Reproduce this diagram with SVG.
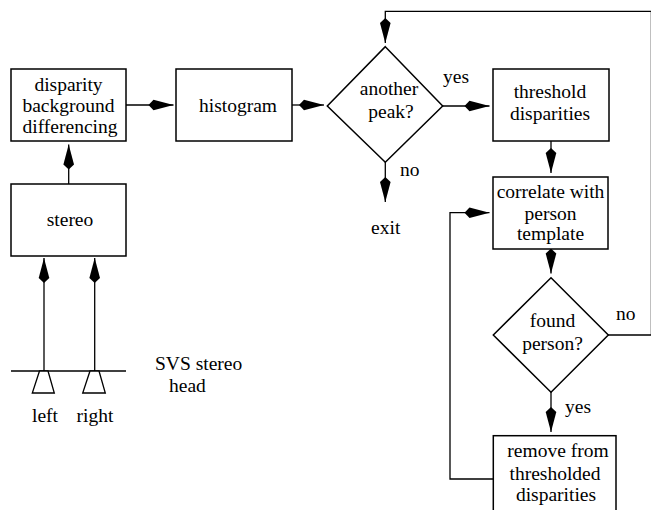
<svg xmlns="http://www.w3.org/2000/svg" width="651" height="510" viewBox="0 0 651 510">
<style>
.box{fill:#fff;stroke:#000;stroke-width:1.5}
.ln{fill:none;stroke:#000;stroke-width:1.3}
.arr{fill:none;stroke:#000;stroke-width:1.3;marker-end:url(#kite)}
text{font-family:"Liberation Serif","Times New Roman",serif;font-size:19.5px;fill:#000}
.c{text-anchor:middle}
</style>
<defs>
<marker id="kite" markerUnits="userSpaceOnUse" viewBox="-26 -6 27 12" refX="0" refY="0" markerWidth="27" markerHeight="12" orient="auto">
<path d="M0,0 L-20,-5.3 L-25,0 L-20,5.3 Z" fill="#000"/>
</marker>
</defs>
<rect width="651" height="510" fill="#fff"/>
<g id="connectors">
<path class="arr" d="M68.7,184 V144.5"/>
<path class="arr" d="M126,105 H173.5"/>
<path class="arr" d="M292,105 H324"/>
<path class="arr" d="M443,106 H489.5"/>
<path class="arr" d="M551,141 V173"/>
<path class="arr" d="M385.3,162 V202"/>
<path class="arr" d="M608,335 H651.4 V11.3 H385.3 V43"/>
<path class="arr" d="M551,249 V273.5"/>
<path class="arr" d="M551,392 V432"/>
<path class="arr" d="M493,479 H450 V212.7 H489.5"/>
<path class="arr" d="M44,371 V258"/>
<path class="arr" d="M94.7,371 V258"/>
</g>
<g id="n_dbd">
<rect class="box" x="11" y="69" width="115" height="72"/>
<text class="c" x="68.5" y="91">disparity</text>
<text class="c" x="68.5" y="112">background</text>
<text class="c" x="70" y="133">differencing</text>
</g>
<g id="n_histogram">
<rect class="box" x="176" y="69" width="116" height="72"/>
<text class="c" x="238" y="111.5">histogram</text>
</g>
<g id="n_peak">
<polygon class="box" points="385.3,46.7 442.7,106 385.3,162.3 327.3,106"/>
<text class="c" x="389" y="95">another</text>
<text class="c" x="391" y="118">peak?</text>
</g>
<g id="n_threshold">
<rect class="box" x="493" y="69" width="116" height="72"/>
<text class="c" x="550" y="98">threshold</text>
<text class="c" x="550" y="120">disparities</text>
</g>
<g id="n_correlate">
<rect class="box" x="493" y="177" width="115" height="72"/>
<text class="c" x="550.5" y="198">correlate with</text>
<text class="c" x="550.5" y="220">person</text>
<text class="c" x="550.5" y="240">template</text>
</g>
<g id="n_found">
<polygon class="box" points="551,277.7 608.3,335 551,392.3 493.3,335"/>
<text class="c" x="552.5" y="327">found</text>
<text class="c" x="552.5" y="350">person?</text>
</g>
<g id="n_remove">
<rect class="box" x="493.3" y="435.7" width="122.7" height="80"/>
<text class="c" x="558" y="457">remove from</text>
<text class="c" x="555" y="480">thresholded</text>
<text class="c" x="556" y="501">disparities</text>
</g>
<g id="n_stereo">
<rect class="box" x="11" y="184" width="115" height="72"/>
<text class="c" x="70" y="226">stereo</text>
</g>
<g id="n_head">
<line class="ln" x1="11" y1="371" x2="126" y2="371"/>
<polygon class="box" style="stroke-width:1.3" points="39.5,371 48,371 54.3,393 32.3,393"/>
<polygon class="box" style="stroke-width:1.3" points="90,371 99,371 105.3,393 82.7,393"/>
<text class="c" x="45" y="422">left</text>
<text class="c" x="95" y="422">right</text>
<text x="155" y="370">SVS stereo</text>
<text x="169" y="392">head</text>
</g>
<g id="labels">
<text x="443" y="83">yes</text>
<text x="400" y="176">no</text>
<text class="c" x="385.7" y="234">exit</text>
<text x="616" y="320">no</text>
<text x="565" y="413">yes</text>
</g>
</svg>
